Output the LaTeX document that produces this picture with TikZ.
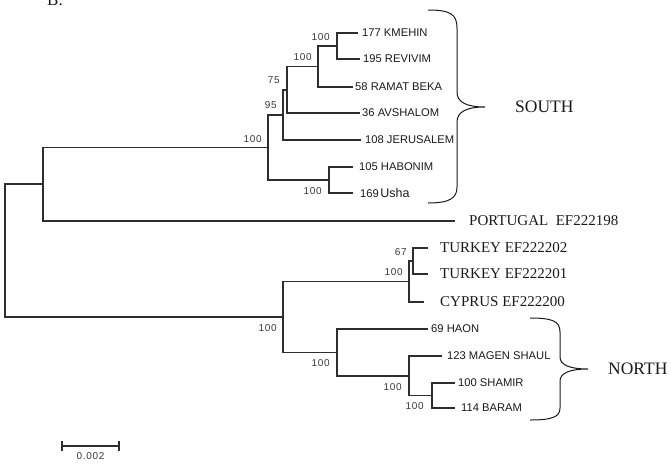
\documentclass[tikz,border=0pt]{standalone}
\usepackage{fontspec}
\setmainfont{Liberation Serif}
\newfontfamily\arialfont{Liberation Sans}
\newfontfamily\bootfont[LetterSpace=7]{Liberation Sans}
\definecolor{treecol}{HTML}{2E2E2E}
\definecolor{labcol}{HTML}{1A1A1A}
\definecolor{bootcol}{HTML}{383838}
\begin{document}
\begin{tikzpicture}[x=1pt,y=-1pt,
  br/.style={draw=treecol, line width=1.35pt},
  leaf/.style={anchor=west, inner sep=0pt, text=labcol, font=\arialfont\fontsize{11.2}{13}\selectfont},
  acc/.style={anchor=west, inner sep=0pt, text=labcol, font=\fontsize{15}{17}\selectfont},
  grp/.style={anchor=west, inner sep=0pt, text=labcol, font=\fontsize{17.5}{20}\selectfont},
  bsa/.style={anchor=south east, inner sep=0pt, text=bootcol, font=\bootfont\fontsize{10}{12}\selectfont},
  bsb/.style={anchor=north east, inner sep=0pt, text=bootcol, font=\bootfont\fontsize{10}{12}\selectfont},
  brace/.style={draw=labcol, line width=1pt}]
\useasboundingbox (0,0) rectangle (671,463);

% panel letter
\node[anchor=base west, inner sep=0pt, text=labcol, font=\fontsize{17}{19}\selectfont] (panel) at (47,5.5) {B.};

% internal nodes
\coordinate (r) at (5,250.5);
\coordinate (u) at (43,184);
\coordinate (s) at (268,147.5);
\coordinate (n95) at (283,115);
\coordinate (n75) at (287,90);
\coordinate (n100b) at (318,66.5);
\coordinate (n100a) at (337,46);
\coordinate (hab) at (329,180);
\coordinate (nn) at (283,317);
\coordinate (tc) at (409,281.5);
\coordinate (t67) at (413,261);
\coordinate (hn) at (337,352.5);
\coordinate (mg) at (409,376);
\coordinate (sb) at (432,395.5);

% leaf tips
\coordinate (kmeT) at (358,33);
\coordinate (revT) at (360,59);
\coordinate (ramT) at (353,87);
\coordinate (avsT) at (360,113);
\coordinate (jerT) at (361,140);
\coordinate (habT) at (353,167);
\coordinate (ushT) at (353,193);
\coordinate (porT) at (455,221);
\coordinate (tu1T) at (428,248);
\coordinate (tu2T) at (428,274);
\coordinate (cypT) at (424,302);
\coordinate (haoT) at (428,329);
\coordinate (magT) at (442,356);
\coordinate (shaT) at (455,383);
\coordinate (barT) at (455,408);

% branches
\draw[br] (r) |- (u);      \draw[br] (r) |- (nn);
\draw[br] (u) |- (s);      \draw[br] (u) |- (porT);
\draw[br] (s) |- (n95);    \draw[br] (s) |- (hab);
\draw[br] (n95) |- (n75);  \draw[br] (n95) |- (jerT);
\draw[br] (n75) |- (n100b);\draw[br] (n75) |- (avsT);
\draw[br] (n100b) |- (n100a); \draw[br] (n100b) |- (ramT);
\draw[br] (n100a) |- (kmeT);  \draw[br] (n100a) |- (revT);
\draw[br] (hab) |- (habT); \draw[br] (hab) |- (ushT);
\draw[br] (nn) |- (tc);    \draw[br] (nn) |- (hn);
\draw[br] (tc) |- (t67);   \draw[br] (tc) |- (cypT);
\draw[br] (t67) |- (tu1T); \draw[br] (t67) |- (tu2T);
\draw[br] (hn) |- (haoT);  \draw[br] (hn) |- (mg);
\draw[br] (mg) |- (magT);  \draw[br] (mg) |- (sb);
\draw[br] (sb) |- (shaT);  \draw[br] (sb) |- (barT);

% leaf labels
\node[leaf] (kme) at (362,33) {177 KMEHIN};
\node[leaf] (rev) at (363,59) {195 REVIVIM};
\node[leaf] (ram) at (355,87) {58 RAMAT BEKA};
\node[leaf] (avs) at (362,113) {36 AVSHALOM};
\node[leaf] (jer) at (365,140) {108 JERUSALEM};
\node[leaf] (habL) at (359,167) {105 HABONIM};
\node[leaf] (ushL) at (360,193) {169\hspace{1.5pt}{\fontsize{12.5}{14}\selectfont Usha}};
\node[acc] (porL) at (469,221) {PORTUGAL\ \ EF222198};
\node[acc] (tu1L) at (440,248) {TURKEY EF222202};
\node[acc] (tu2L) at (440,274) {TURKEY EF222201};
\node[acc] (cypL) at (440,302) {CYPRUS EF222200};
\node[leaf] (haoL) at (431,329) {69 HAON};
\node[leaf] (magL) at (447,356) {123 MAGEN SHAUL};
\node[leaf] (shaL) at (458,383) {100 SHAMIR};
\node[leaf] (barL) at (461,408) {114 BARAM};

% bootstrap values
\node[bsa] (bs) at ([xshift=-6pt,yshift=5pt]s) {100};
\node[bsa] (b95) at ([xshift=-6pt,yshift=6pt]n95) {95};
\node[bsa] (b75) at ([xshift=-7pt,yshift=6pt]n75) {75};
\node[bsa] (b100b) at ([xshift=-6pt,yshift=6pt]n100b) {100};
\node[bsa] (b100a) at ([xshift=-7pt,yshift=5pt]n100a) {100};
\node[bsa] (b67) at ([xshift=-6pt,yshift=5pt]t67) {67};
\node[bsa] (btc) at ([xshift=-6pt,yshift=6pt]tc) {100};
\node[bsb] (bhab) at ([xshift=-7pt,yshift=-7pt]hab) {100};
\node[bsb] (bnn) at ([xshift=-6pt,yshift=-7pt]nn) {100};
\node[bsb] (bhn) at ([xshift=-7pt,yshift=-7pt]hn) {100};
\node[bsb] (bmg) at ([xshift=-7pt,yshift=-7pt]mg) {100};
\node[bsb] (bsb) at ([xshift=-8pt,yshift=-7pt]sb) {100};

% braces
\draw[brace] (428,10) .. controls (450,10) and (457,14) .. (457,28)
  -- (457,92) .. controls (457,102) and (466,107) .. (485,107)
  .. controls (466,107) and (457,112) .. (457,122)
  -- (457,187) .. controls (457,198) and (450,203) .. (428,203);
\node[grp] (south) at (515,107) {SOUTH};

\draw[brace] (530,318) .. controls (552,318) and (560,321) .. (560,332)
  -- (560,357) .. controls (560,365) and (570,369) .. (588,369)
  .. controls (570,369) and (560,373) .. (560,381)
  -- (560,408) .. controls (560,417) and (552,420) .. (530,420);
\node[grp] (north) at (608,369) {NORTH};

% scale bar
\coordinate (scL) at (62,446);
\coordinate (scR) at (119,446);
\draw[br] (scL) -- (scR);
\draw[br] ([yshift=5pt]scL) -- ([yshift=-5pt]scL);
\draw[br] ([yshift=5pt]scR) -- ([yshift=-5pt]scR);
\node[anchor=north, inner sep=0pt, text=bootcol, font=\bootfont\fontsize{10}{12}\selectfont] (scale) at (90.5,452.5) {0.002};
\end{tikzpicture}
\end{document}
